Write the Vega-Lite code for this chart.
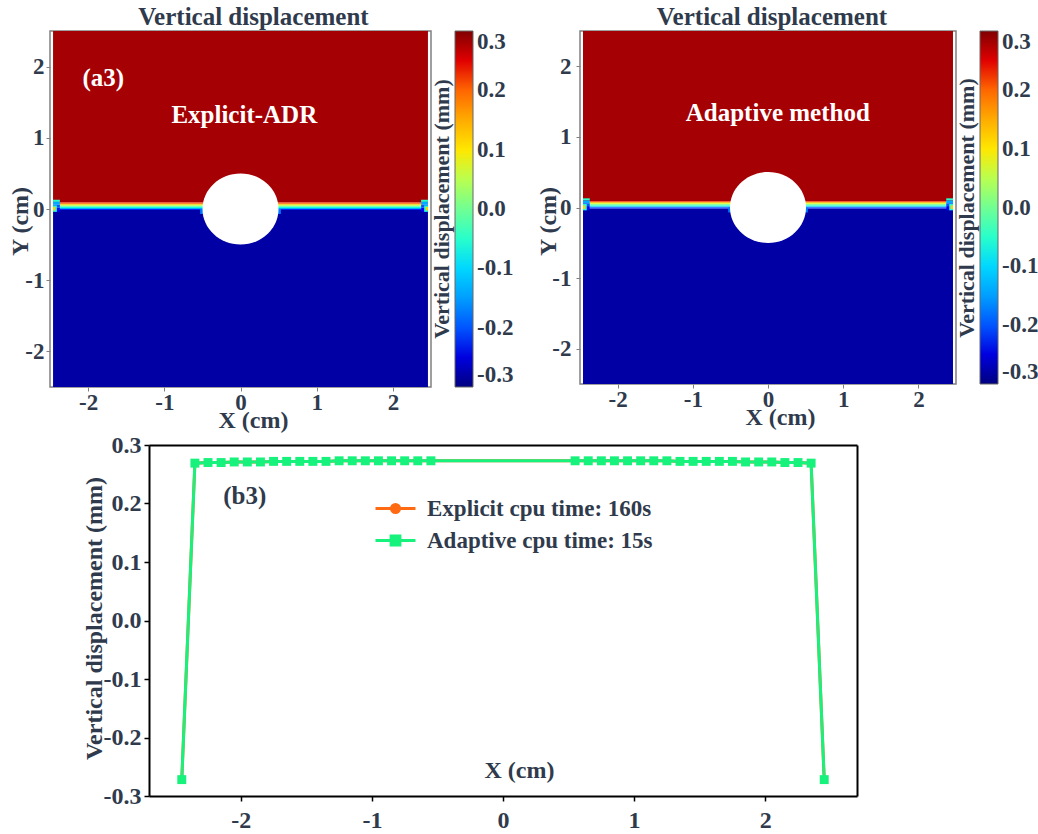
{
  "$schema": "https://vega.github.io/schema/vega-lite/v6.json",
  "padding": {"left": 7, "top": 4, "right": 0, "bottom": 0},
  "config": {
    "font": "Liberation Serif",
    "view": {"stroke": null},
    "axis": {"labelFont": "Liberation Serif", "labelFontWeight": "bold", "labelColor": "#2f3b4c", "titleFont": "Liberation Serif", "titleFontWeight": "bold", "titleColor": "#2f3b4c", "grid": false},
    "legend": {"labelFont": "Liberation Serif", "labelFontWeight": "bold", "labelColor": "#2f3b4c", "titleFont": "Liberation Serif", "titleFontWeight": "bold", "titleColor": "#2f3b4c"},
    "title": {"font": "Liberation Serif", "fontWeight": "bold", "color": "#2f3b4c"}
  },
  "datasets": {
    "field": [
      {"x1": -2.46, "x2": 2.46, "y1": 0.09, "y2": 2.5, "v": 0.28},
      {"x1": -2.46, "x2": 2.46, "y1": -2.5, "y2": -0.015, "v": -0.28},
      {"x1": -2.37, "x2": 2.37, "y1": 0.075, "y2": 0.09, "v": 0.22},
      {"x1": -2.37, "x2": 2.37, "y1": 0.06, "y2": 0.075, "v": 0.14},
      {"x1": -2.37, "x2": 2.37, "y1": 0.045, "y2": 0.06, "v": 0.07},
      {"x1": -2.37, "x2": 2.37, "y1": 0.03, "y2": 0.045, "v": 0.0},
      {"x1": -2.37, "x2": 2.37, "y1": 0.015, "y2": 0.03, "v": -0.07},
      {"x1": -2.37, "x2": 2.37, "y1": 0.0, "y2": 0.015, "v": -0.14},
      {"x1": -2.37, "x2": 2.37, "y1": -0.015, "y2": 0.0, "v": -0.22},
      {"x1": -2.46, "x2": -2.37, "y1": 0.10, "y2": 0.13, "v": -0.05},
      {"x1": -2.46, "x2": -2.37, "y1": 0.06, "y2": 0.10, "v": -0.14},
      {"x1": -2.46, "x2": -2.37, "y1": 0.02, "y2": 0.06, "v": -0.2},
      {"x1": -2.46, "x2": -2.37, "y1": -0.04, "y2": 0.02, "v": -0.24},
      {"x1": -2.46, "x2": -2.41, "y1": -0.04, "y2": 0.05, "v": -0.06},
      {"x1": -2.46, "x2": -2.43, "y1": -0.02, "y2": 0.03, "v": 0.12},
      {"x1": 2.37, "x2": 2.46, "y1": 0.10, "y2": 0.13, "v": -0.05},
      {"x1": 2.37, "x2": 2.46, "y1": 0.06, "y2": 0.10, "v": -0.14},
      {"x1": 2.37, "x2": 2.46, "y1": 0.02, "y2": 0.06, "v": -0.2},
      {"x1": 2.37, "x2": 2.46, "y1": -0.04, "y2": 0.02, "v": -0.24},
      {"x1": 2.41, "x2": 2.46, "y1": -0.04, "y2": 0.05, "v": -0.06},
      {"x1": 2.43, "x2": 2.46, "y1": -0.02, "y2": 0.03, "v": 0.12},
      {"x1": -0.53, "x2": -0.47, "y1": -0.07, "y2": 0.0, "v": -0.18},
      {"x1": 0.47, "x2": 0.53, "y1": -0.07, "y2": 0.0, "v": -0.18}
    ],
    "hole": [{"x": 0, "y": 0}],
    "notes": [
      {"panel": "a3", "x": -1.8, "y": 1.84, "label": "(a3)"},
      {"panel": "a3", "x": 0.05, "y": 1.32, "label": "Explicit-ADR"},
      {"panel": "a4", "x": 0.13, "y": 1.34, "label": "Adaptive method"}
    ],
    "tag": [{"x": -1.97, "y": 0.213, "label": "(b3)"}],
    "profile": [
      {"series": "Explicit cpu time: 160s", "x": -2.45, "y": -0.272},
      {"series": "Explicit cpu time: 160s", "x": -2.35, "y": 0.269},
      {"series": "Explicit cpu time: 160s", "x": -2.25, "y": 0.27},
      {"series": "Explicit cpu time: 160s", "x": -2.15, "y": 0.27},
      {"series": "Explicit cpu time: 160s", "x": -2.05, "y": 0.271},
      {"series": "Explicit cpu time: 160s", "x": -1.95, "y": 0.271},
      {"series": "Explicit cpu time: 160s", "x": -1.85, "y": 0.271},
      {"series": "Explicit cpu time: 160s", "x": -1.75, "y": 0.272},
      {"series": "Explicit cpu time: 160s", "x": -1.65, "y": 0.272},
      {"series": "Explicit cpu time: 160s", "x": -1.55, "y": 0.272},
      {"series": "Explicit cpu time: 160s", "x": -1.45, "y": 0.272},
      {"series": "Explicit cpu time: 160s", "x": -1.35, "y": 0.272},
      {"series": "Explicit cpu time: 160s", "x": -1.25, "y": 0.273},
      {"series": "Explicit cpu time: 160s", "x": -1.15, "y": 0.273},
      {"series": "Explicit cpu time: 160s", "x": -1.05, "y": 0.273},
      {"series": "Explicit cpu time: 160s", "x": -0.95, "y": 0.273},
      {"series": "Explicit cpu time: 160s", "x": -0.85, "y": 0.273},
      {"series": "Explicit cpu time: 160s", "x": -0.75, "y": 0.273},
      {"series": "Explicit cpu time: 160s", "x": -0.65, "y": 0.273},
      {"series": "Explicit cpu time: 160s", "x": -0.55, "y": 0.273},
      {"series": "Explicit cpu time: 160s", "x": 0.55, "y": 0.273},
      {"series": "Explicit cpu time: 160s", "x": 0.65, "y": 0.273},
      {"series": "Explicit cpu time: 160s", "x": 0.75, "y": 0.273},
      {"series": "Explicit cpu time: 160s", "x": 0.85, "y": 0.273},
      {"series": "Explicit cpu time: 160s", "x": 0.95, "y": 0.273},
      {"series": "Explicit cpu time: 160s", "x": 1.05, "y": 0.273},
      {"series": "Explicit cpu time: 160s", "x": 1.15, "y": 0.273},
      {"series": "Explicit cpu time: 160s", "x": 1.25, "y": 0.273},
      {"series": "Explicit cpu time: 160s", "x": 1.35, "y": 0.272},
      {"series": "Explicit cpu time: 160s", "x": 1.45, "y": 0.272},
      {"series": "Explicit cpu time: 160s", "x": 1.55, "y": 0.272},
      {"series": "Explicit cpu time: 160s", "x": 1.65, "y": 0.272},
      {"series": "Explicit cpu time: 160s", "x": 1.75, "y": 0.272},
      {"series": "Explicit cpu time: 160s", "x": 1.85, "y": 0.271},
      {"series": "Explicit cpu time: 160s", "x": 1.95, "y": 0.271},
      {"series": "Explicit cpu time: 160s", "x": 2.05, "y": 0.271},
      {"series": "Explicit cpu time: 160s", "x": 2.15, "y": 0.27},
      {"series": "Explicit cpu time: 160s", "x": 2.25, "y": 0.27},
      {"series": "Explicit cpu time: 160s", "x": 2.35, "y": 0.269},
      {"series": "Explicit cpu time: 160s", "x": 2.45, "y": -0.272},
      {"series": "Adaptive cpu time: 15s", "x": -2.45, "y": -0.272},
      {"series": "Adaptive cpu time: 15s", "x": -2.35, "y": 0.269},
      {"series": "Adaptive cpu time: 15s", "x": -2.25, "y": 0.27},
      {"series": "Adaptive cpu time: 15s", "x": -2.15, "y": 0.27},
      {"series": "Adaptive cpu time: 15s", "x": -2.05, "y": 0.271},
      {"series": "Adaptive cpu time: 15s", "x": -1.95, "y": 0.271},
      {"series": "Adaptive cpu time: 15s", "x": -1.85, "y": 0.271},
      {"series": "Adaptive cpu time: 15s", "x": -1.75, "y": 0.272},
      {"series": "Adaptive cpu time: 15s", "x": -1.65, "y": 0.272},
      {"series": "Adaptive cpu time: 15s", "x": -1.55, "y": 0.272},
      {"series": "Adaptive cpu time: 15s", "x": -1.45, "y": 0.272},
      {"series": "Adaptive cpu time: 15s", "x": -1.35, "y": 0.272},
      {"series": "Adaptive cpu time: 15s", "x": -1.25, "y": 0.273},
      {"series": "Adaptive cpu time: 15s", "x": -1.15, "y": 0.273},
      {"series": "Adaptive cpu time: 15s", "x": -1.05, "y": 0.273},
      {"series": "Adaptive cpu time: 15s", "x": -0.95, "y": 0.273},
      {"series": "Adaptive cpu time: 15s", "x": -0.85, "y": 0.273},
      {"series": "Adaptive cpu time: 15s", "x": -0.75, "y": 0.273},
      {"series": "Adaptive cpu time: 15s", "x": -0.65, "y": 0.273},
      {"series": "Adaptive cpu time: 15s", "x": -0.55, "y": 0.273},
      {"series": "Adaptive cpu time: 15s", "x": 0.55, "y": 0.273},
      {"series": "Adaptive cpu time: 15s", "x": 0.65, "y": 0.273},
      {"series": "Adaptive cpu time: 15s", "x": 0.75, "y": 0.273},
      {"series": "Adaptive cpu time: 15s", "x": 0.85, "y": 0.273},
      {"series": "Adaptive cpu time: 15s", "x": 0.95, "y": 0.273},
      {"series": "Adaptive cpu time: 15s", "x": 1.05, "y": 0.273},
      {"series": "Adaptive cpu time: 15s", "x": 1.15, "y": 0.273},
      {"series": "Adaptive cpu time: 15s", "x": 1.25, "y": 0.273},
      {"series": "Adaptive cpu time: 15s", "x": 1.35, "y": 0.272},
      {"series": "Adaptive cpu time: 15s", "x": 1.45, "y": 0.272},
      {"series": "Adaptive cpu time: 15s", "x": 1.55, "y": 0.272},
      {"series": "Adaptive cpu time: 15s", "x": 1.65, "y": 0.272},
      {"series": "Adaptive cpu time: 15s", "x": 1.75, "y": 0.272},
      {"series": "Adaptive cpu time: 15s", "x": 1.85, "y": 0.271},
      {"series": "Adaptive cpu time: 15s", "x": 1.95, "y": 0.271},
      {"series": "Adaptive cpu time: 15s", "x": 2.05, "y": 0.271},
      {"series": "Adaptive cpu time: 15s", "x": 2.15, "y": 0.27},
      {"series": "Adaptive cpu time: 15s", "x": 2.25, "y": 0.27},
      {"series": "Adaptive cpu time: 15s", "x": 2.35, "y": 0.269},
      {"series": "Adaptive cpu time: 15s", "x": 2.45, "y": -0.272}
    ]
  },
  "vconcat": [
    {
      "hconcat": [
        {
          "width": 381,
          "height": 356,
          "view": {"stroke": "#808080", "strokeWidth": 1.5},
          "title": {"text": "Vertical displacement", "fontSize": 25, "offset": 1, "dx": 13},
          "layer": [
            {
              "data": {"name": "field"},
              "mark": {"type": "rect"},
              "encoding": {
                "x": {"field": "x1", "type": "quantitative", "title": "X (cm)",
                  "scale": {"domain": [-2.5, 2.5], "nice": false, "zero": false},
                  "axis": {"values": [-2, -1, 0, 1, 2], "labelExpr": "datum.value < 0 ? '-' + format(-datum.value, 'd') : format(datum.value, 'd')", "labelFontSize": 23, "tickSize": 4, "tickColor": "#808080", "domain": false, "labelPadding": 0, "titleFontSize": 24, "titleX": 203, "titleY": 33, "titleBaseline": "middle"}},
                "x2": {"field": "x2"},
                "y": {"field": "y1", "type": "quantitative", "title": "Y (cm)",
                  "scale": {"domain": [-2.5, 2.5], "nice": false, "zero": false},
                  "axis": {"values": [-2, -1, 0, 1, 2], "labelExpr": "datum.value < 0 ? '-' + format(-datum.value, 'd') : format(datum.value, 'd')", "labelFontSize": 23, "tickSize": 4, "tickColor": "#808080", "domain": false, "labelPadding": 2, "titleFontSize": 24, "titleX": -30, "titleY": 190, "titleBaseline": "middle"}},
                "y2": {"field": "y2"},
                "color": {"field": "v", "type": "quantitative",
                  "scale": {"domain": [-0.3, -0.234, -0.225, -0.096, -0.09, -0.075, 0.084, 0.09, 0.096, 0.234, 0.246, 0.3], "range": ["#000080", "#0000ff", "#0000ff", "#00dbff", "#00e5f7", "#15ffe2", "#eeff08", "#f7f500", "#ffec00", "#ff1300", "#e80000", "#800000"]},
                  "legend": {"title": "Vertical displacement (mm)", "orient": "right", "offset": 0, "direction": "vertical", "titleOrient": "left", "titleAnchor": "middle", "titleFontSize": 22, "titleLimit": 400, "titlePadding": 0, "gradientLength": 356, "gradientThickness": 18, "gradientStrokeColor": "#666666", "gradientStrokeWidth": 1, "values": [-0.3, -0.2, -0.1, 0, 0.1, 0.2, 0.3], "labelExpr": "datum.value < -0.001 ? '-' + format(-datum.value, '.1f') : format(abs(datum.value), '.1f')", "labelFontSize": 23, "labelAlign": "right", "labelOffset": 4, "labelOverlap": false}}
              }
            },
            {
              "data": {"name": "hole"},
              "mark": {"type": "point", "filled": true, "fill": "#ffffff", "strokeWidth": 0, "opacity": 1, "size": 5776, "shape": "M-1,0A1,0.934 0 1,1 1,0A1,0.934 0 1,1 -1,0Z"},
              "encoding": {
                "x": {"field": "x", "type": "quantitative", "title": "X (cm)"},
                "y": {"field": "y", "type": "quantitative", "title": "Y (cm)"}
              }
            },
            {
              "data": {"name": "notes"},
              "transform": [{"filter": "datum.panel === 'a3'"}],
              "mark": {"type": "text", "color": "#ffffff", "fontSize": 25, "fontWeight": "bold", "font": "Liberation Serif"},
              "encoding": {
                "x": {"field": "x", "type": "quantitative", "title": "X (cm)"},
                "y": {"field": "y", "type": "quantitative", "title": "Y (cm)"},
                "text": {"field": "label"}
              }
            }
          ]
        },
        {
          "width": 376,
          "height": 353,
          "view": {"stroke": "#808080", "strokeWidth": 1.5},
          "title": {"text": "Vertical displacement", "fontSize": 25, "offset": 1, "dx": 4},
          "layer": [
            {
              "data": {"name": "field"},
              "mark": {"type": "rect"},
              "encoding": {
                "x": {"field": "x1", "type": "quantitative", "title": "X (cm)",
                  "scale": {"domain": [-2.5, 2.5], "nice": false, "zero": false},
                  "axis": {"values": [-2, -1, 0, 1, 2], "labelExpr": "datum.value < 0 ? '-' + format(-datum.value, 'd') : format(datum.value, 'd')", "labelFontSize": 23, "tickSize": 4, "tickColor": "#808080", "domain": false, "labelPadding": 0, "titleFontSize": 24, "titleX": 200, "titleY": 33, "titleBaseline": "middle"}},
                "x2": {"field": "x2"},
                "y": {"field": "y1", "type": "quantitative", "title": "Y (cm)",
                  "scale": {"domain": [-2.5, 2.5], "nice": false, "zero": false},
                  "axis": {"values": [-2, -1, 0, 1, 2], "labelExpr": "datum.value < 0 ? '-' + format(-datum.value, 'd') : format(datum.value, 'd')", "labelFontSize": 23, "tickSize": 4, "tickColor": "#808080", "domain": false, "labelPadding": 5, "titleFontSize": 24, "titleX": -32, "titleY": 190, "titleBaseline": "middle"}},
                "y2": {"field": "y2"},
                "color": {"field": "v", "type": "quantitative",
                  "scale": {"domain": [-0.3, -0.234, -0.225, -0.096, -0.09, -0.075, 0.084, 0.09, 0.096, 0.234, 0.246, 0.3], "range": ["#000080", "#0000ff", "#0000ff", "#00dbff", "#00e5f7", "#15ffe2", "#eeff08", "#f7f500", "#ffec00", "#ff1300", "#e80000", "#800000"]},
                  "legend": {"title": "Vertical displacement (mm)", "orient": "right", "offset": 0, "direction": "vertical", "titleOrient": "left", "titleAnchor": "middle", "titleFontSize": 22, "titleLimit": 400, "titlePadding": 0, "gradientLength": 353, "gradientThickness": 18, "gradientStrokeColor": "#666666", "gradientStrokeWidth": 1, "values": [-0.3, -0.2, -0.1, 0, 0.1, 0.2, 0.3], "labelExpr": "datum.value < -0.001 ? '-' + format(-datum.value, '.1f') : format(abs(datum.value), '.1f')", "labelFontSize": 23, "labelAlign": "right", "labelOffset": 4, "labelOverlap": false}}
              }
            },
            {
              "data": {"name": "hole"},
              "mark": {"type": "point", "filled": true, "fill": "#ffffff", "strokeWidth": 0, "opacity": 1, "size": 5776, "shape": "M-1,0A1,0.934 0 1,1 1,0A1,0.934 0 1,1 -1,0Z"},
              "encoding": {
                "x": {"field": "x", "type": "quantitative", "title": "X (cm)"},
                "y": {"field": "y", "type": "quantitative", "title": "Y (cm)"}
              }
            },
            {
              "data": {"name": "notes"},
              "transform": [{"filter": "datum.panel === 'a4'"}],
              "mark": {"type": "text", "color": "#ffffff", "fontSize": 25, "fontWeight": "bold", "font": "Liberation Serif"},
              "encoding": {
                "x": {"field": "x", "type": "quantitative", "title": "X (cm)"},
                "y": {"field": "y", "type": "quantitative", "title": "Y (cm)"},
                "text": {"field": "label"}
              }
            }
          ]
        }
      ],
      "spacing": 149,
      "bounds": "flush",
      "resolve": {"scale": {"color": "independent", "x": "independent", "y": "independent"}, "legend": {"color": "independent"}}
    },
    {
      "width": 807,
      "height": 351,
      "data": {"name": "profile"},
      "layer": [
        {
          "transform": [{"filter": "datum.series === 'Explicit cpu time: 160s'"}],
          "mark": {"type": "line", "strokeWidth": 3},
          "encoding": {
            "x": {"field": "x", "type": "quantitative", "title": "X (cm)",
              "scale": {"domain": [-2.7, 2.7], "range": [99, 807], "nice": false, "zero": false},
              "axis": {"orient": "bottom", "values": [-2, -1, 0, 1, 2], "labelExpr": "datum.value < 0 ? '-' + format(-datum.value, 'd') : format(datum.value, 'd')", "labelFontSize": 24, "labelPadding": 7, "tickSize": 5, "tickColor": "#000000", "tickWidth": 1.5, "domainColor": "#000000", "domainWidth": 2, "titleFontSize": 24, "titleX": 469, "titleY": -26, "titleBaseline": "middle"}},
            "y": {"field": "y", "type": "quantitative", "title": "Vertical displacement (mm)",
              "scale": {"domain": [-0.3, 0.3], "nice": false, "zero": false},
              "axis": {"orient": "left", "offset": -99, "values": [-0.3, -0.2, -0.1, 0, 0.1, 0.2, 0.3], "labelExpr": "datum.value < -0.001 ? '-' + format(-datum.value, '.1f') : format(abs(datum.value), '.1f')", "labelFontSize": 24, "labelPadding": 3, "tickSize": 5, "tickColor": "#000000", "tickWidth": 1.5, "domainColor": "#000000", "domainWidth": 2, "titleFontSize": 24, "titleX": -55, "titleY": 173, "titleBaseline": "middle"}},
            "color": {"field": "series", "type": "nominal",
              "scale": {"domain": ["Explicit cpu time: 160s", "Adaptive cpu time: 15s"], "range": ["#ff6a13", "#17f27c"]},
              "legend": {"title": null, "orient": "none", "legendX": 334, "legendY": 52, "symbolSize": 256, "labelFontSize": 23, "labelOffset": 20, "labelLimit": 400, "rowPadding": 8,
                "encode": {"symbols": {"update": {
                  "shape": {"signal": "datum.value === 'Explicit cpu time: 160s' ? 'M-2.5,0H2.5M-0.5,0A0.5,0.5 0 1,1 0.5,0A0.5,0.5 0 1,1 -0.5,0Z' : 'M-2.5,0H2.5M-0.55,-0.55H0.55V0.55H-0.55Z'"},
                  "fill": {"signal": "scale('color', datum.value)"},
                  "stroke": {"signal": "scale('color', datum.value)"},
                  "strokeWidth": {"value": 3},
                  "opacity": {"value": 1}
                }}}}}
          }
        },
        {
          "transform": [{"filter": "datum.series === 'Explicit cpu time: 160s'"}],
          "mark": {"type": "point", "filled": true, "shape": "circle", "size": 50, "opacity": 1},
          "encoding": {
            "x": {"field": "x", "type": "quantitative", "title": "X (cm)", "axis": null},
            "y": {"field": "y", "type": "quantitative", "title": "Vertical displacement (mm)", "axis": null},
            "color": {"field": "series", "type": "nominal"}
          }
        },
        {
          "transform": [{"filter": "datum.series === 'Adaptive cpu time: 15s'"}],
          "mark": {"type": "line", "strokeWidth": 3},
          "encoding": {
            "x": {"field": "x", "type": "quantitative", "title": "X (cm)",
              "axis": {"orient": "top", "labels": false, "ticks": false, "title": null, "domainColor": "#000000", "domainWidth": 2, "minExtent": 0, "maxExtent": 0}},
            "y": {"field": "y", "type": "quantitative", "title": "Vertical displacement (mm)",
              "axis": {"orient": "right", "labels": false, "ticks": false, "title": null, "domainColor": "#000000", "domainWidth": 2, "minExtent": 0, "maxExtent": 0}},
            "color": {"field": "series", "type": "nominal"}
          }
        },
        {
          "transform": [{"filter": "datum.series === 'Adaptive cpu time: 15s'"}],
          "mark": {"type": "point", "filled": true, "shape": "square", "size": 80, "opacity": 1},
          "encoding": {
            "x": {"field": "x", "type": "quantitative", "title": "X (cm)", "axis": null},
            "y": {"field": "y", "type": "quantitative", "title": "Vertical displacement (mm)", "axis": null},
            "color": {"field": "series", "type": "nominal"}
          }
        },
        {
          "data": {"name": "tag"},
          "mark": {"type": "text", "fontSize": 25, "fontWeight": "bold", "font": "Liberation Serif", "color": "#2f3b4c"},
          "encoding": {
            "x": {"field": "x", "type": "quantitative", "title": "X (cm)", "axis": null},
            "y": {"field": "y", "type": "quantitative", "title": "Vertical displacement (mm)", "axis": null},
            "text": {"field": "label"}
          }
        }
      ],
      "resolve": {"axis": {"x": "independent", "y": "independent"}}
    }
  ],
  "spacing": 0,
  "resolve": {"scale": {"color": "independent", "x": "independent", "y": "independent"}, "legend": {"color": "independent"}}
}
